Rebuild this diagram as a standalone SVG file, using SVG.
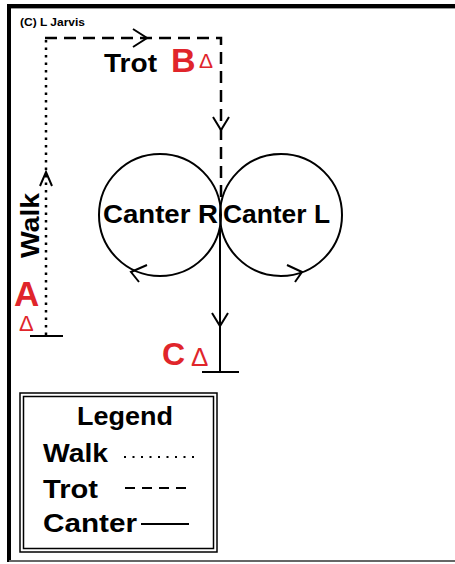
<svg xmlns="http://www.w3.org/2000/svg" width="455" height="564" viewBox="0 0 455 564">
<style>
.t{font-family:"Liberation Sans",Arial,sans-serif;font-weight:bold;fill:#000}
.r{font-family:"Liberation Sans",Arial,sans-serif;font-weight:bold;fill:#e0252b}
.d{font-family:"Liberation Sans",Arial,sans-serif;fill:#e0252b}
.ln{fill:none;stroke:#000;stroke-width:2}
.walk{fill:none;stroke:#000;stroke-width:2.5;stroke-dasharray:2.5 5}
.trot{fill:none;stroke:#000;stroke-width:2.5;stroke-dasharray:12 7}
.ch{fill:none;stroke:#000;stroke-width:2;stroke-linejoin:miter}
</style>
<rect width="455" height="564" fill="#fff"/>
<g id="frame">
<line x1="7" y1="6" x2="455" y2="6" stroke="#000" stroke-width="4"/>
<line x1="7" y1="8.5" x2="455" y2="8.5" stroke="#999" stroke-width="1"/>
<line x1="9" y1="4" x2="9" y2="562" stroke="#000" stroke-width="4"/>
<line x1="9" y1="561" x2="455" y2="561" stroke="#666" stroke-width="2"/>
</g>
<g id="copyright"><text class="t" x="20" y="26" font-size="11" textLength="65" lengthAdjust="spacingAndGlyphs">(C) L Jarvis</text></g>
<g id="connectors">
<line class="walk" x1="46" y1="40" x2="46" y2="336"/>
<line class="ln" x1="30" y1="336" x2="63" y2="336"/>
<polyline class="ch" points="40,186 46,172 52,186"/>
<polyline class="trot" points="45,38 221,38 221,202"/>
<polyline class="ch" points="133,29 147,38 133,47"/>
<polyline class="ch" points="213,117 221,130 229,117"/>
<line class="ln" x1="220" y1="228" x2="220" y2="372"/>
<polyline class="ch" points="212,313 220,326 228,313"/>
<line class="ln" x1="202" y1="372" x2="239" y2="372"/>
<polyline class="ch" points="147,265 131,272 139,282"/>
<polyline class="ch" points="287,265 302,272 295,282"/>
</g>
<g id="circle-right">
<circle class="ln" cx="160" cy="215" r="61"/>
<text class="t" x="103" y="223" font-size="26" textLength="115" lengthAdjust="spacingAndGlyphs">Canter R</text>
</g>
<g id="circle-left">
<circle class="ln" cx="281" cy="215" r="61"/>
<text class="t" x="223" y="223" font-size="26" textLength="107" lengthAdjust="spacingAndGlyphs">Canter L</text>
</g>
<g id="label-trot"><text class="t" x="104" y="72" font-size="26" textLength="53" lengthAdjust="spacingAndGlyphs">Trot</text></g>
<g id="marker-B">
<text class="r" x="171" y="72" font-size="34">B</text>
<text class="d" x="199" y="68" font-size="21">Δ</text>
</g>
<g id="label-walk"><text class="t" transform="translate(39,258) rotate(-90)" font-size="26" textLength="65" lengthAdjust="spacingAndGlyphs">Walk</text></g>
<g id="marker-A">
<text class="r" x="14" y="306" font-size="35">A</text>
<text class="d" x="19" y="331" font-size="22">Δ</text>
</g>
<g id="marker-C">
<text class="r" x="162" y="365" font-size="32">C</text>
<text class="d" x="191" y="366" font-size="26">Δ</text>
</g>
<g id="legend">
<rect x="20" y="393" width="197" height="159" fill="none" stroke="#000" stroke-width="1.5"/>
<rect x="23.5" y="396.5" width="190" height="152" fill="none" stroke="#000" stroke-width="1.5"/>
<text class="t" x="77" y="425" font-size="26" textLength="96" lengthAdjust="spacingAndGlyphs">Legend</text>
<text class="t" x="43" y="462" font-size="26" textLength="65" lengthAdjust="spacingAndGlyphs">Walk</text>
<line x1="124" y1="457" x2="196" y2="457" stroke="#000" stroke-width="2" stroke-dasharray="2 6.5"/>
<text class="t" x="43" y="498" font-size="26" textLength="55" lengthAdjust="spacingAndGlyphs">Trot</text>
<line x1="125" y1="488" x2="188" y2="488" stroke="#000" stroke-width="2" stroke-dasharray="10 7"/>
<text class="t" x="43" y="532" font-size="26" textLength="94" lengthAdjust="spacingAndGlyphs">Canter</text>
<line x1="141" y1="524" x2="189" y2="524" stroke="#000" stroke-width="2"/>
</g>
</svg>
